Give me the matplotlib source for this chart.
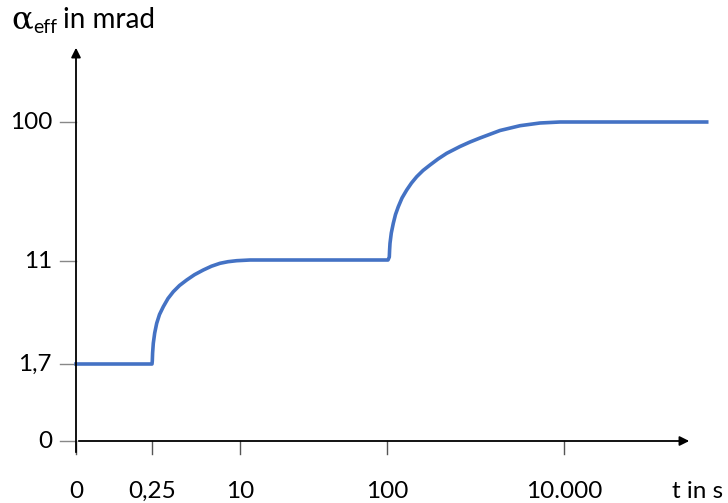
import matplotlib
matplotlib.use('Agg')
import matplotlib.pyplot as plt

# axis units = pixel offsets from the origin of the sketch
x_tick_pos = [0, 76, 164, 311, 488]
x_tick_labels = ['0', '0,25', '10', '100', '10.000']
y_tick_pos = [0, 77, 180, 319]
y_tick_labels = ['0', '1,7', '11', '100']

# curve (x offset, y offset)
curve_x = [0, 76, 76.3, 76.6, 77.3, 78.7, 80.7, 83.5, 87.3, 92, 97.3, 103.5, 110.7, 118.5, 127.3, 135.5, 144, 152, 160.7, 174, 312,
           313.3, 313.6, 314, 315.3, 317.3, 319.5, 322.3, 326, 330.7, 335.5, 340.7, 347, 354, 362, 370.7, 384, 394, 404, 424, 444, 464, 484, 630.7]
curve_y = [77, 77, 80, 88, 97.7, 108, 117.7, 126.5, 134.3, 142.5, 149.3, 155.5, 161, 166.3, 171, 174.8, 177.7, 179.3, 180.3, 181, 181,
           184, 191, 197.7, 208, 217.7, 226.5, 234.3, 243, 251, 258, 264.3, 270.5, 276, 282, 287.7, 294.5, 299, 303, 310.5, 315.3, 318, 319, 319]

fig = plt.figure(figsize=(7.28, 5.03), dpi=100)
ax = fig.add_axes([0, 0, 1, 1])
ax.set_xlim(-76, 652)
ax.set_ylim(-62, 441)
ax.axis('off')

font = 'Lato'
fs = 17.5

# axes with arrows
ax.annotate('', xy=(616, 0), xytext=(0, 0),
            arrowprops=dict(arrowstyle='-|>', color='black', lw=1.3, mutation_scale=14))
ax.annotate('', xy=(0, 396), xytext=(0, -14),
            arrowprops=dict(arrowstyle='-|>', color='black', lw=1.3, mutation_scale=14))

for xp, lab in zip(x_tick_pos, x_tick_labels):
    ax.plot([xp, xp], [0, -13], color='#555555', lw=1)
    ax.text(xp, -50, lab, ha='center', va='center', fontsize=fs, family=font)
for yp, lab in zip(y_tick_pos, y_tick_labels):
    ax.plot([-16, 0], [yp, yp], color='#888888', lw=1)
    ax.text(-24, yp, lab, ha='right', va='center', fontsize=fs, family=font)

ax.text(596, -50, 't in s', ha='left', va='center', fontsize=fs, family=font)

# y label
ax.text(-65, 421, 'α', ha='left', va='center', fontsize=23, family='DejaVu Serif')
ax.text(-43, 414, 'eff', ha='left', va='center', fontsize=14, family=font)
ax.text(-13, 421, 'in mrad', ha='left', va='center', fontsize=20, family=font)

ax.plot(curve_x, curve_y, color='#4472C4', lw=2.6, solid_joinstyle='round')

fig.savefig('out.png', dpi=100)
